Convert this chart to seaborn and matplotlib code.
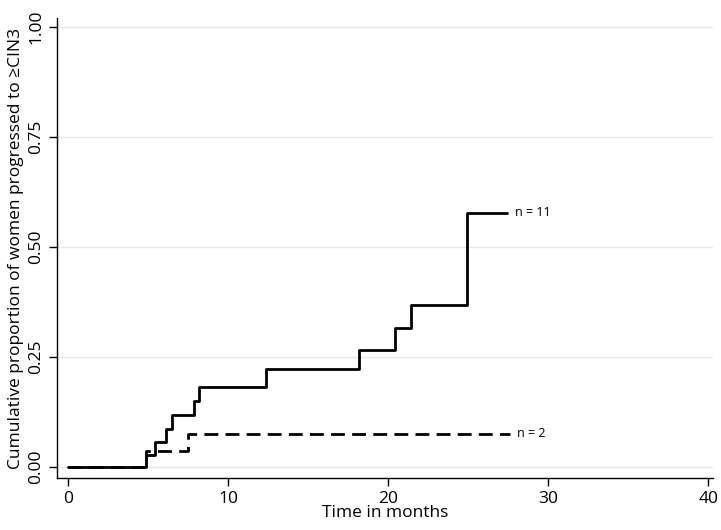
import matplotlib
matplotlib.use("Agg")
import matplotlib.pyplot as plt
import seaborn as sns
import pandas as pd

# Step times (months) and cumulative proportions
solid_time = [0, 4.9, 5.45, 6.15, 6.5, 7.9, 8.2, 12.4, 18.2, 20.4, 21.4, 24.9, 27.4]
solid_prop = [0.0, 0.027, 0.056, 0.087, 0.118, 0.150, 0.182, 0.223, 0.265, 0.317, 0.369, 0.578, 0.578]
dashed_time = [0, 4.9, 7.5, 27.6]
dashed_prop = [0.0, 0.036, 0.076, 0.076]
labels = ["n = 11", "n = 2"]
x_ticks = [0, 10, 20, 30, 40]
y_ticks = [0.00, 0.25, 0.50, 0.75, 1.00]
y_ticklabels = ["0.00", "0.25", "0.50", "0.75", "1.00"]

df = pd.concat([
    pd.DataFrame({"time": solid_time, "prop": solid_prop, "group": labels[0]}),
    pd.DataFrame({"time": dashed_time, "prop": dashed_prop, "group": labels[1]}),
])

sns.set_style("white")
plt.rcParams["font.family"] = ["Open Sans", "DejaVu Sans"]
plt.rcParams["text.color"] = "black"
plt.rcParams["axes.labelcolor"] = "black"
plt.rcParams["xtick.color"] = "black"
plt.rcParams["ytick.color"] = "black"

fig = plt.figure(figsize=(7.21, 5.30), dpi=100)
ax = fig.add_axes([0.079, 0.098, 0.91, 0.868])

for y in y_ticks:
    ax.axhline(y, color="#e8e8e8", lw=1.0, zorder=0)

sns.lineplot(data=df, x="time", y="prop", hue="group", style="group",
             palette={labels[0]: "black", labels[1]: "black"},
             dashes={labels[0]: "", labels[1]: (5, 2.6)},
             drawstyle="steps-post", linewidth=2.0, legend=False, ax=ax,
             estimator=None, sort=False)

ax.text(solid_time[-1] + 0.55, solid_prop[-1], labels[0], va="center", ha="left", fontsize=9)
ax.text(dashed_time[-1] + 0.45, dashed_prop[-1], labels[1], va="center", ha="left", fontsize=9)

ax.set_xlim(-0.69, 40.3)
ax.set_ylim(-0.025, 1.02)
ax.set_xticks(x_ticks)
ax.set_yticks(y_ticks)
ax.set_yticklabels(y_ticklabels, rotation=90, va="center")
ax.tick_params(axis="both", which="both", direction="out", length=6, width=1, labelsize=12.5,
               bottom=True, left=True, color="black", labelcolor="black", pad=3)
ax.set_xlabel("Time in months", fontsize=12.5, labelpad=-1)
ax.set_ylabel("Cumulative proportion of women progressed to \u2265CIN3", fontsize=12.5, labelpad=3)

for s in ["top", "right"]:
    ax.spines[s].set_visible(False)
for s in ["left", "bottom"]:
    ax.spines[s].set_color("black")
    ax.spines[s].set_linewidth(1.0)

fig.savefig("out.png", dpi=100, facecolor="white")
